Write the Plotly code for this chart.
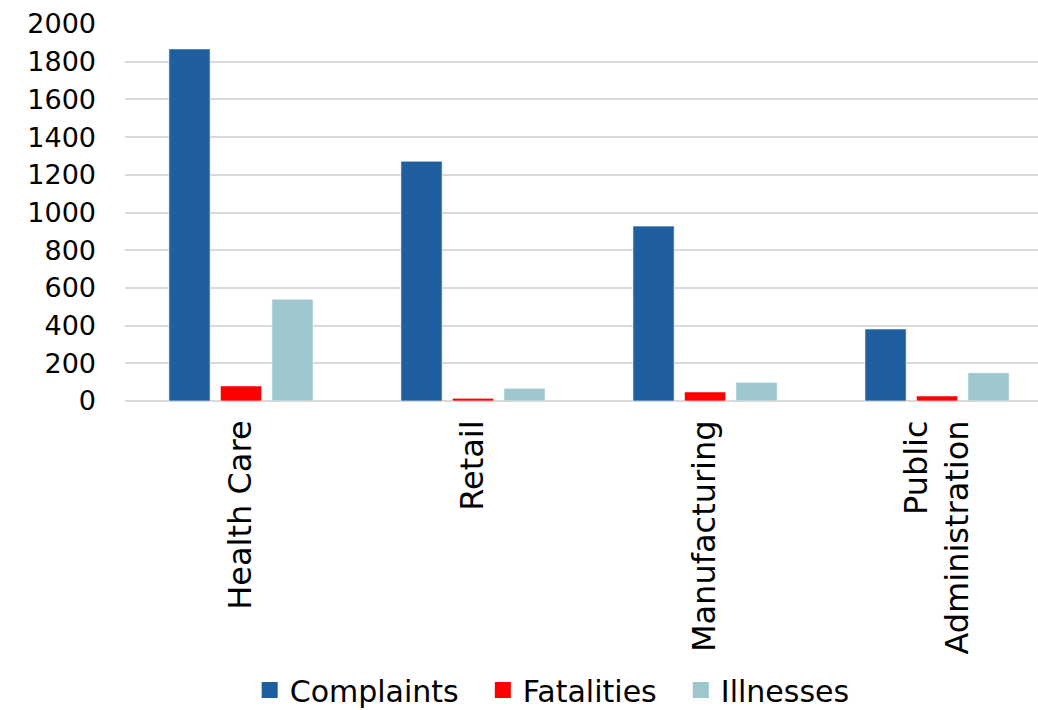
import plotly.graph_objects as go

categories = ["Health Care", "Retail", "Manufacturing", "Public<br>Administration"]
complaints = [1868, 1272, 928, 382]
fatalities = [80, 14, 48, 27]
illnesses = [540, 67, 99, 150]
y_ticks = [0, 200, 400, 600, 800, 1000, 1200, 1400, 1600, 1800, 2000]

FONT = "DejaVu Sans"
series = [("Complaints", complaints, "#1F5F9F"),
          ("Fatalities", fatalities, "#FF0000"),
          ("Illnesses", illnesses, "#9FC7CE")]
PAD = "\u00a0\u00a0"

fig = go.Figure()
for name, vals, col in series:
    fig.add_trace(go.Bar(x=categories, y=vals, name=name, showlegend=False,
                         marker=dict(color=col, line=dict(color="rgba(255,255,255,0.6)", width=1))))
for i, (name, vals, col) in enumerate(series):
    fig.add_trace(go.Scatter(x=[None], y=[None], mode="markers",
                             name=name + (PAD if i < len(series) - 1 else ""),
                             marker=dict(symbol="square", size=18, color=col)))

fig.update_layout(
    width=1038, height=710,
    margin=dict(l=125, r=0, t=24, b=309),
    paper_bgcolor="white", plot_bgcolor="white",
    barmode="group", bargap=0.334, bargroupgap=0.2,
    font=dict(family=FONT, size=27, color="#000000"),
    legend=dict(orientation="h", xref="container", x=0.532, xanchor="center",
                yref="container", y=0.028, yanchor="middle",
                font=dict(size=30), itemsizing="trace", traceorder="normal"),
    showlegend=True,
)
fig.update_xaxes(range=[-0.5, 3.435], tickangle=-90, showgrid=False, showline=False,
                 ticks="", tickfont=dict(size=32), ticklabelstandoff=12, automargin=False)
fig.update_yaxes(range=[0, 2000], tickvals=y_ticks, showgrid=True, gridcolor="#D9D9D9",
                 gridwidth=2, zeroline=True, zerolinecolor="#D9D9D9", zerolinewidth=2,
                 tickfont=dict(size=27), ticklabelstandoff=28, ticks="", automargin=False)

fig.write_html("out.html", config={"displayModeBar": False},
               post_script="document.body.style.margin='0';")
